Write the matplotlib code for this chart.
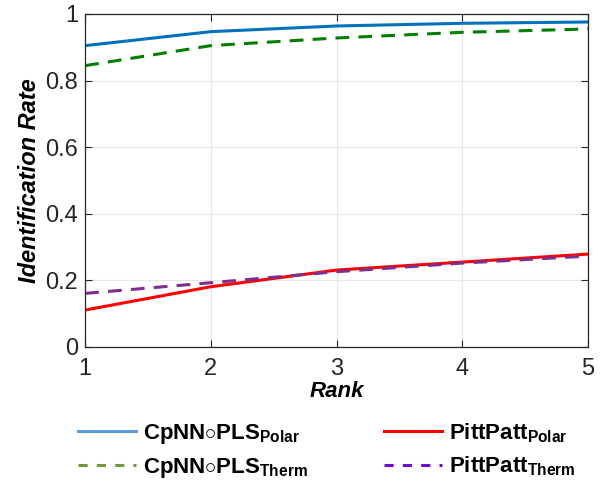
import matplotlib
matplotlib.use('Agg')
import matplotlib.pyplot as plt
from matplotlib.lines import Line2D

plt.rcParams['font.family'] = ['Liberation Sans', 'DejaVu Sans']
plt.rcParams['mathtext.fontset'] = 'custom'
plt.rcParams['mathtext.rm'] = 'Liberation Sans:bold'
plt.rcParams['mathtext.bf'] = 'Liberation Sans:bold'

RANKS = [1, 2, 3, 4, 5]
CPNN_POLAR = [0.905, 0.947, 0.964, 0.972, 0.976]
CPNN_THERM = [0.845, 0.905, 0.928, 0.945, 0.955]
PITT_POLAR = [0.111, 0.181, 0.231, 0.255, 0.279]
PITT_THERM = [0.161, 0.193, 0.226, 0.252, 0.273]

LABELS = [r'CpNN$\circ$PLS$_{\rm Polar}$', r'CpNN$\circ$PLS$_{\rm Therm}$',
          r'PittPatt$_{\rm Polar}$', r'PittPatt$_{\rm Therm}$']

AX_COLOR = '#262626'


def main():
    fig = plt.figure(figsize=(6.0, 4.91), dpi=100)
    ax = fig.add_axes([0.142, 0.2933, 0.838, 0.6782])

    ax.plot(RANKS, CPNN_POLAR, color='#0072BD', lw=2.2, solid_capstyle='butt')
    ax.plot(RANKS, CPNN_THERM, color='#008000', lw=2.2, dashes=(4.5, 3))
    ax.plot(RANKS, PITT_POLAR, color='#FF0000', lw=2.2)
    ax.plot(RANKS, PITT_THERM, color='#7E2F8E', lw=2.2, dashes=(4.5, 3))

    ax.set_xlim(1, 5)
    ax.set_ylim(0, 1)
    ax.set_xticks(RANKS)
    ax.set_yticks([0, 0.2, 0.4, 0.6, 0.8, 1])
    ax.set_yticklabels(['0', '0.2', '0.4', '0.6', '0.8', '1'])
    ax.grid(True, color='#e6e6e6', lw=0.8)
    ax.set_axisbelow(True)
    ax.tick_params(direction='in', length=5, width=0.8, colors=AX_COLOR,
                   labelsize=17, top=True, right=True)
    ax.tick_params(axis='x', pad=8)
    ax.tick_params(axis='y', pad=5)
    for sp in ax.spines.values():
        sp.set_color(AX_COLOR)
        sp.set_linewidth(0.9)

    ax.set_xlabel('Rank', fontsize=16, fontweight='bold', style='italic', labelpad=1)
    ax.set_ylabel('Identification Rate', fontsize=17, fontweight='bold', style='italic',
                  labelpad=3)

    handles = [
        Line2D([], [], color='#5B9BD5', lw=2.2),
        Line2D([], [], color='#70973A', lw=2.2, dashes=(3, 3)),
        Line2D([], [], color='#FF0000', lw=2.2),
        Line2D([], [], color='#6A0DD0', lw=2.2, dashes=(3, 3)),
    ]
    fig.legend(handles, LABELS, ncol=2, frameon=False, loc='upper left',
               bbox_to_anchor=(0.112, 0.165), prop={'size': 16, 'weight': 'bold'},
               handlelength=2.6, handletextpad=0.3, columnspacing=3.45,
               labelspacing=0.45, borderpad=0)

    fig.savefig('out.png', dpi=100)


if __name__ == '__main__':
    main()
